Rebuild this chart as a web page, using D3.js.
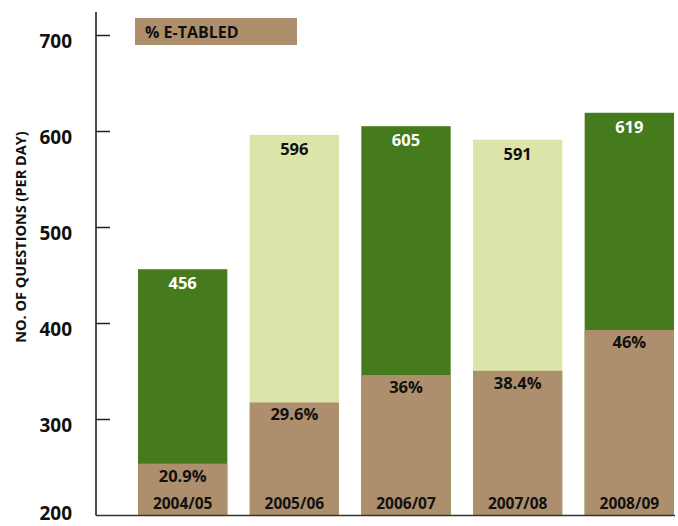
<!DOCTYPE html>
<html>
<head>
<meta charset="utf-8">
<script src="https://cdn.jsdelivr.net/npm/d3@7"></script>
<style>
  body { margin: 0; background: #fff; }
  svg { display: block; font-family: "Open Sans", "Noto Sans", sans-serif; }
</style>
</head>
<body>
<svg id="chart" width="678" height="526"></svg>
<script>
// Questions per day by session, and share e-tabled
const years = ["2004/05", "2005/06", "2006/07", "2007/08", "2008/09"];
const totals = [456, 596, 605, 591, 619];
const eTabledPct = [20.9, 29.6, 36, 38.4, 46];
const pctLabels = ["20.9%", "29.6%", "36%", "38.4%", "46%"];
const yTicks = [200, 300, 400, 500, 600, 700];

const colors = { dark: "#457a1d", light: "#dce5a9", tan: "#ad8f6d" };

const svg = d3.select("#chart");

const y = d3.scaleLinear().domain([200, 700]).range([515, 35]);
const x = d3.scaleBand().domain(years).range([138, 674]).paddingInner(0.2).paddingOuter(0);

// Axis: ticks point inward, labels sit a little below their tick
const axis = d3.axisLeft(y).tickValues(yTicks).tickSizeInner(-14).tickSizeOuter(0).tickPadding(24);
const gAxis = svg.append("g").attr("transform", "translate(96,0)").call(axis);
gAxis.select(".domain").remove();
gAxis.selectAll(".tick line").attr("stroke", "#222").attr("stroke-width", 1.5)
  .filter(d => d === 200).remove();
gAxis.selectAll(".tick text")
  .attr("font-family", "'Open Sans', sans-serif")
  .attr("font-size", 19).attr("font-weight", "bold").attr("fill", "#111")
  .attr("dy", null)
  .attr("y", d => d === 200 ? 4.5 : 12.5);

svg.append("line").attr("x1", 96).attr("x2", 96).attr("y1", 12).attr("y2", 515.5)
  .attr("stroke", "#111").attr("stroke-width", 1.5);

// Bars
const data = years.map((yr, i) => ({ yr, total: totals[i], pct: eTabledPct[i], label: pctLabels[i], i }));
const g = svg.append("g");

g.selectAll("rect.total").data(data).join("rect")
  .attr("class", "total")
  .attr("x", d => x(d.yr)).attr("width", x.bandwidth())
  .attr("y", d => y(d.total)).attr("height", d => y(200) - y(d.total))
  .attr("fill", d => d.i % 2 === 0 ? colors.dark : colors.light);

const tanTop = d => 200 + d.pct / 100 * (d.total - 200);

g.selectAll("rect.etabled").data(data).join("rect")
  .attr("class", "etabled")
  .attr("x", d => x(d.yr)).attr("width", x.bandwidth())
  .attr("y", d => y(tanTop(d))).attr("height", d => y(200) - y(tanTop(d)))
  .attr("fill", colors.tan);

const labelStyle = sel => sel
  .attr("text-anchor", "middle").attr("font-size", 16.5).attr("font-weight", "bold");

g.selectAll("text.total").data(data).join("text")
  .attr("class", "total")
  .attr("x", d => x(d.yr) + x.bandwidth() / 2)
  .attr("y", d => y(d.total) + 20)
  .attr("fill", d => d.i % 2 === 0 ? "#fff" : "#111")
  .text(d => d.total).call(labelStyle);

g.selectAll("text.pct").data(data).join("text")
  .attr("class", "pct")
  .attr("x", d => x(d.yr) + x.bandwidth() / 2)
  .attr("y", d => y(tanTop(d)) + 18)
  .attr("fill", "#111")
  .text(d => d.label).call(labelStyle);

g.selectAll("text.yr").data(data).join("text")
  .attr("class", "yr")
  .attr("x", d => x(d.yr) + x.bandwidth() / 2)
  .attr("y", 509)
  .attr("fill", "#111")
  .text(d => d.yr).call(labelStyle).attr("font-size", 15.5);

// Baseline
svg.append("line").attr("x1", 96).attr("x2", 675).attr("y1", 515.5).attr("y2", 515.5)
  .attr("stroke", "#333").attr("stroke-width", 1.5);

// Legend
svg.append("rect").attr("x", 135).attr("y", 18).attr("width", 162).attr("height", 27).attr("fill", colors.tan);
svg.append("text").attr("x", 145).attr("y", 38).attr("font-size", 16).attr("font-weight", "bold")
  .attr("fill", "#111").text("% E-TABLED");

// Y-axis title
svg.append("text")
  .attr("transform", "translate(26,237) rotate(-90)")
  .attr("text-anchor", "middle").attr("font-size", 14.5).attr("font-weight", "bold").attr("fill", "#111")
  .text("NO. OF QUESTIONS (PER DAY)");
</script>
</body>
</html>
